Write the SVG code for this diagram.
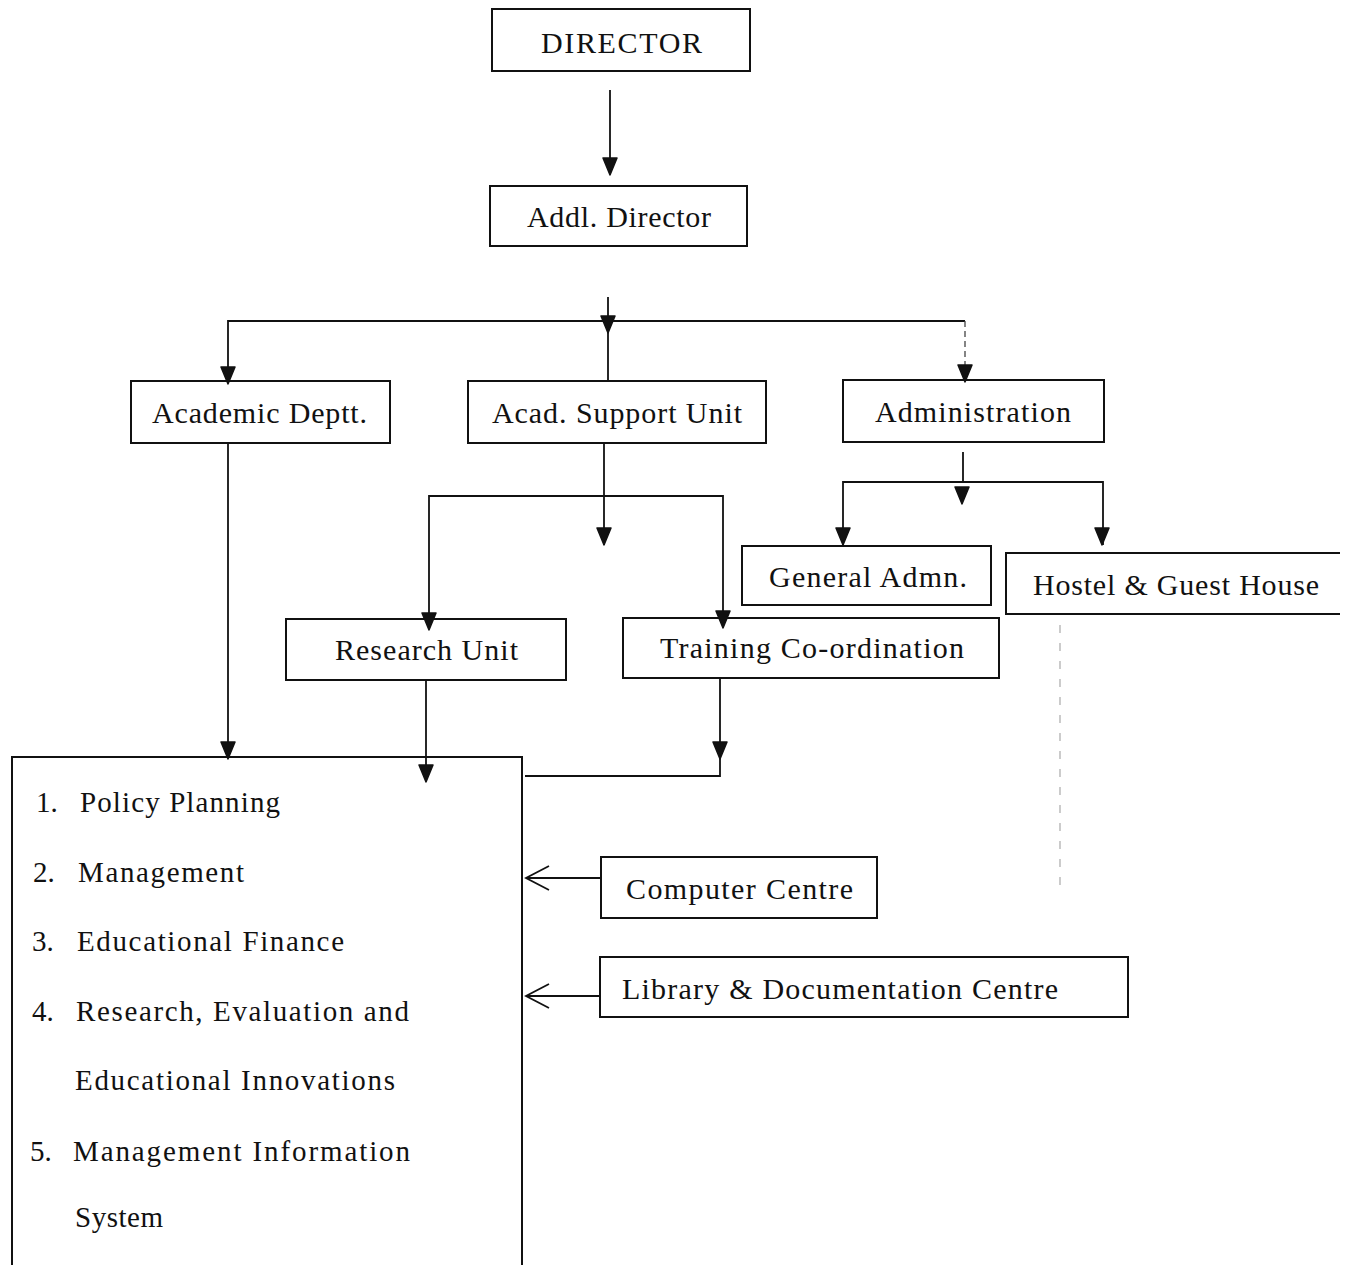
<svg xmlns="http://www.w3.org/2000/svg" width="1346" height="1265" viewBox="0 0 1346 1265">
<style>
.box{fill:#fff;stroke:#111;stroke-width:2}
.open{fill:none;stroke:#111;stroke-width:2}
.ln{fill:none;stroke:#111;stroke-width:1.8}
.dl{fill:none;stroke:#444;stroke-width:1.3;stroke-dasharray:6 4}
.fd{fill:none;stroke:#aaa;stroke-width:1.2;stroke-dasharray:8 10}
.t{font-family:"Liberation Serif","Times New Roman",serif;font-size:30px;fill:#111}
.it{font-family:"Liberation Serif","Times New Roman",serif;font-size:29px;fill:#111}
.ah{fill:#111;stroke:#111;stroke-width:1.5;stroke-linejoin:round}
</style>
<defs>
<path id="ah" class="ah" d="M-7,0 L7,0 L0,17 Z"/>
</defs>
<rect width="1346" height="1265" fill="#fff"/>

<g id="director"><rect class="box" x="492" y="9" width="258" height="62"/><text class="t" x="541" y="53" textLength="161" lengthAdjust="spacing">DIRECTOR</text></g>
<g id="addl-director"><rect class="box" x="490" y="186" width="257" height="60"/><text class="t" x="527" y="227" textLength="184" lengthAdjust="spacing">Addl. Director</text></g>
<g id="academic-deptt"><rect class="box" x="131" y="381" width="259" height="62"/><text class="t" x="152" y="423" textLength="215" lengthAdjust="spacing">Academic Deptt.</text></g>
<g id="acad-support-unit"><rect class="box" x="468" y="381" width="298" height="62"/><text class="t" x="492" y="423" textLength="250" lengthAdjust="spacing">Acad. Support Unit</text></g>
<g id="administration"><rect class="box" x="843" y="380" width="261" height="62"/><text class="t" x="875" y="422" textLength="196" lengthAdjust="spacing">Administration</text></g>
<g id="general-admn"><rect class="box" x="742" y="546" width="249" height="59"/><text class="t" x="769" y="587" textLength="198" lengthAdjust="spacing">General Admn.</text></g>
<g id="hostel-guest-house"><path class="box" d="M1340,553 L1006,553 L1006,614 L1340,614"/><text class="t" x="1033" y="595" textLength="286" lengthAdjust="spacing">Hostel &amp; Guest House</text></g>
<g id="research-unit"><rect class="box" x="286" y="619" width="280" height="61"/><text class="t" x="335" y="660" textLength="183" lengthAdjust="spacing">Research Unit</text></g>
<g id="training-coordination"><rect class="box" x="623" y="618" width="376" height="60"/><text class="t" x="660" y="658" textLength="304" lengthAdjust="spacing">Training Co-ordination</text></g>
<g id="computer-centre"><rect class="box" x="601" y="857" width="276" height="61"/><text class="t" x="626" y="899" textLength="227" lengthAdjust="spacing">Computer Centre</text></g>
<g id="library-documentation-centre"><rect class="box" x="600" y="957" width="528" height="60"/><text class="t" x="622" y="999" textLength="436" lengthAdjust="spacing">Library &amp; Documentation Centre</text></g>

<g id="functions-box">
<path class="open" d="M12,1270 L12,757 L522,757 L522,1270"/>
<text class="it" x="36" y="812">1.</text><text class="it" x="80" y="812" textLength="200" lengthAdjust="spacing">Policy Planning</text>
<text class="it" x="33" y="882">2.</text><text class="it" x="78" y="882" textLength="166" lengthAdjust="spacing">Management</text>
<text class="it" x="32" y="951">3.</text><text class="it" x="77" y="951" textLength="267" lengthAdjust="spacing">Educational Finance</text>
<text class="it" x="32" y="1021">4.</text><text class="it" x="76" y="1021" textLength="333" lengthAdjust="spacing">Research, Evaluation and</text>
<text class="it" x="75" y="1090" textLength="320" lengthAdjust="spacing">Educational Innovations</text>
<text class="it" x="30" y="1161">5.</text><text class="it" x="73" y="1161" textLength="337" lengthAdjust="spacing">Management Information</text>
<text class="it" x="75" y="1227" textLength="88" lengthAdjust="spacing">System</text>
</g>

<g id="connectors">
<line class="ln" x1="610" y1="90" x2="610" y2="172"/>
<line class="ln" x1="608" y1="297" x2="608" y2="380"/>
<polyline class="ln" points="228,380 228,321 965,321"/>
<line class="dl" x1="965" y1="321" x2="965" y2="380"/>
<line class="ln" x1="228" y1="443" x2="228" y2="757"/>
<line class="ln" x1="604" y1="443" x2="604" y2="545"/>
<polyline class="ln" points="429,619 429,496 723,496 723,618"/>
<line class="ln" x1="963" y1="452" x2="963" y2="482"/>
<polyline class="ln" points="843,546 843,482 1103,482 1103,545"/>
<line class="ln" x1="426" y1="680" x2="426" y2="770"/>
<polyline class="ln" points="720,678 720,776 525,776"/>
<line class="ln" x1="601" y1="878" x2="526" y2="878"/>
<polyline class="ln" points="549,866 526,878 549,890"/>
<line class="ln" x1="600" y1="996" x2="526" y2="996"/>
<polyline class="ln" points="549,984 526,996 549,1008"/>
<line class="fd" x1="1060" y1="625" x2="1060" y2="895"/>
<use href="#ah" x="610" y="158"/>
<use href="#ah" x="608" y="316"/>
<use href="#ah" x="228" y="367"/>
<use href="#ah" x="965" y="365"/>
<use href="#ah" x="604" y="528"/>
<use href="#ah" x="429" y="613"/>
<use href="#ah" x="723" y="611"/>
<use href="#ah" x="962" y="487"/>
<use href="#ah" x="843" y="528"/>
<use href="#ah" x="1102" y="528"/>
<use href="#ah" x="228" y="742"/>
<use href="#ah" x="426" y="765"/>
<use href="#ah" x="720" y="742"/>
</g>
</svg>
